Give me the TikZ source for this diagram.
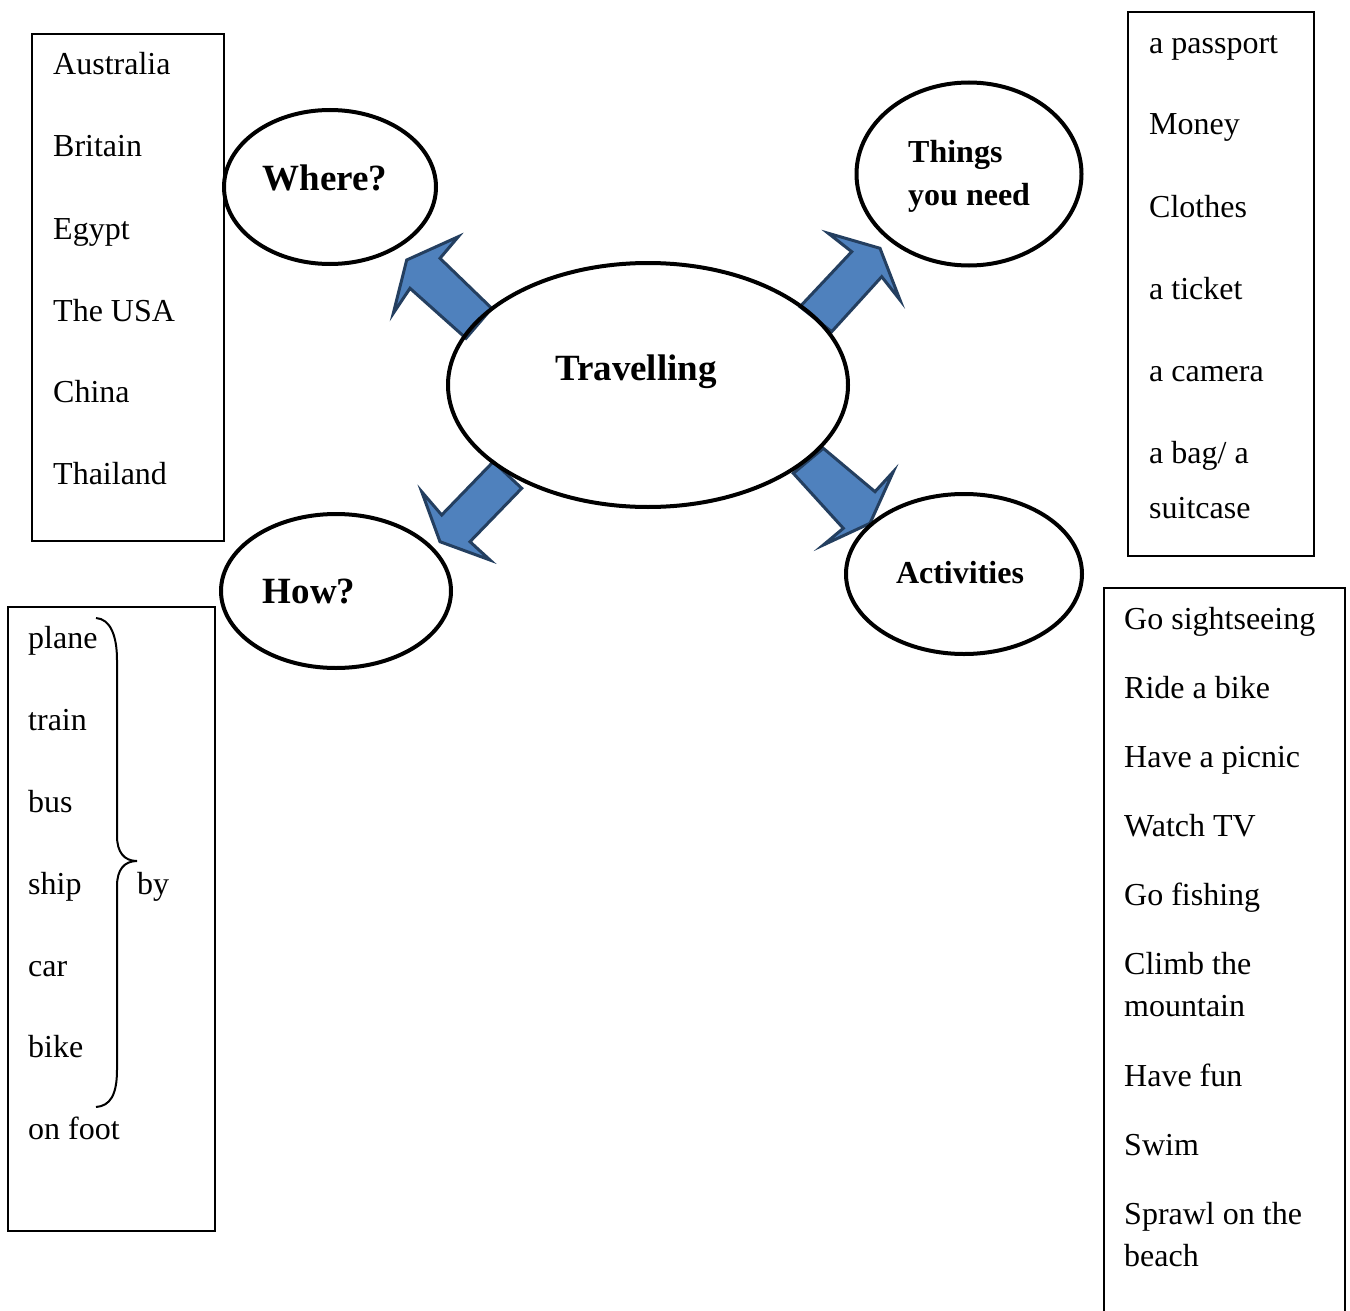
\documentclass[tikz,border=0pt]{standalone}
\usepackage{fontspec}
\setmainfont{Liberation Serif}
\usetikzlibrary{shapes.geometric}
\definecolor{arrowfill}{HTML}{4F81BD}
\definecolor{arrowline}{HTML}{243F60}
\tikzset{
  listbox/.style={draw=black, line width=1.5pt},
  item/.style={anchor=base west, inner sep=0pt, font=\fontsize{32}{38}\selectfont},
  oval/.style={ellipse, draw=black, line width=4pt, inner sep=0pt},
  ovaltext/.style={inner sep=0pt, font=\bfseries\fontsize{37}{44}\selectfont},
  blockarrow/.style={fill=arrowfill, draw=arrowline, line width=3pt, line join=miter},
  bracepath/.style={draw=black, line width=2pt}
}
\begin{document}
\begin{tikzpicture}[x=1pt,y=-1pt]
\useasboundingbox[fill=white] (0,0) rectangle (1350,1311);

% block arrows
\draw[blockarrow] (491.7,308.3) -- (466,338.3) -- (410,288.3) -- (393.3,313.3) -- (406.7,260) -- (458.3,236.7) -- (440,258.3) -- cycle;
\draw[blockarrow] (800,306.7) -- (831.7,331.7) -- (881.7,276.7) -- (900,300) -- (880,248.3) -- (828.3,233.3) -- (851.7,251.7) -- cycle;
\draw[blockarrow] (493.3,461.7) -- (521.7,488.3) -- (470,541.7) -- (490,560) -- (440,541.7) -- (421.7,491.7) -- (441.7,515) -- cycle;
\draw[blockarrow] (823.3,448.3) -- (793.3,473.3) -- (843.3,528.3) -- (823.3,545) -- (870,523.3) -- (893.3,471.7) -- (875,491.7) -- cycle;

% ovals
\node[oval, minimum width=400pt, minimum height=244pt] (trav) at (648,385) {};
\node[ovaltext, anchor=base] (travt) at (636,380) {Travelling};
\node[oval, minimum width=212pt, minimum height=154pt] (where) at (330,187) {};
\node[ovaltext, anchor=base] (wheret) at (325,190) {Where?};
\node[oval, minimum width=225pt, minimum height=183pt] (things) at (969,174) {};
\node[inner sep=0pt, anchor=base west, font=\bfseries\fontsize{32}{38}\selectfont] (thingst1) at (908,163) {Things};
\node[inner sep=0pt, anchor=base west, font=\bfseries\fontsize{32}{38}\selectfont] (thingst2) at (908,205) {you need};
\node[oval, minimum width=230pt, minimum height=154pt] (how) at (336,591) {};
\node[ovaltext, anchor=base] (howt) at (309,603) {How?};
\node[oval, minimum width=236pt, minimum height=160pt] (act) at (964,574) {};
\node[inner sep=0pt, anchor=base, font=\bfseries\fontsize{32}{38}\selectfont] (actt) at (960,583) {Activities};

% list box: where
\draw[listbox] (32,34) rectangle (224,541);
\node[item] (w1) at (53,75) {Australia};
\node[item] (w2) at (53,157) {Britain};
\node[item] (w3) at (53,239) {Egypt};
\node[item] (w4) at (53,321) {The USA};
\node[item] (w5) at (53,402) {China};
\node[item] (w6) at (53,484) {Thailand};

% list box: things
\draw[listbox] (1128,12) rectangle (1314,556);
\node[item] (t1) at (1149,54) {a passport};
\node[item] (t2) at (1149,135) {Money};
\node[item] (t3) at (1149,217) {Clothes};
\node[item] (t4) at (1149,299) {a ticket};
\node[item] (t5) at (1149,381) {a camera};
\node[item] (t6) at (1149,463) {a bag/ a};
\node[item] (t7) at (1149,518) {suitcase};

% list box: how
\draw[listbox] (8,607) rectangle (215,1231);
\node[item] (h1) at (28,648) {plane};
\node[item] (h2) at (28,730) {train};
\node[item] (h3) at (28,812) {bus};
\node[item] (h4) at (28,894) {ship};
\node[item] (h5) at (28,976) {car};
\node[item] (h6) at (28,1057) {bike};
\node[item] (h7) at (28,1139) {on foot};
\node[item] (by) at (137,894) {by};
\draw[bracepath] (96,618) .. controls (110,619) and (117,635) .. (117,660) -- (117,836)
  .. controls (117,852) and (124,861) .. (137,861)
  .. controls (124,861) and (117,870) .. (117,886) -- (117,1070)
  .. controls (117,1095) and (110,1106) .. (96,1107);

% list box: activities (open at bottom)
\draw[listbox] (1104,1311) -- (1104,588) -- (1345,588) -- (1345,1311);
\node[item] (a1) at (1124,629) {Go sightseeing};
\node[item] (a2) at (1124,698) {Ride a bike};
\node[item] (a3) at (1124,767) {Have a picnic};
\node[item] (a4) at (1124,836) {Watch TV};
\node[item] (a5) at (1124,905) {Go fishing};
\node[item] (a6) at (1124,974) {Climb the};
\node[item] (a7) at (1124,1016) {mountain};
\node[item] (a8) at (1124,1086) {Have fun};
\node[item] (a9) at (1124,1155) {Swim};
\node[item] (a10) at (1124,1224) {Sprawl on the};
\node[item] (a11) at (1124,1266) {beach};
\end{tikzpicture}
\end{document}
